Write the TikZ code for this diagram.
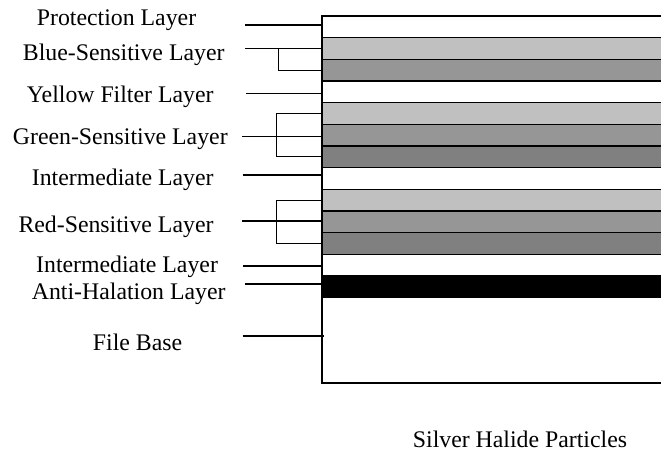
\documentclass[tikz,border=0pt]{standalone}
\usepackage{fontspec}
\setmainfont{Liberation Serif}
\definecolor{lightg}{HTML}{C0C0C0}
\definecolor{midg}{HTML}{969696}
\definecolor{darkg}{HTML}{808080}
\begin{document}
\begin{tikzpicture}[x=1pt,y=-1pt,
  layer/.style={draw=black,line width=1.1pt,anchor=north west,
    minimum width=344pt,minimum height=21.67pt,inner sep=0pt,outer sep=0pt},
  lbl/.style={anchor=base west,inner sep=0pt,font=\fontsize{23.8}{28}\selectfont},
  lead/.style={line width=1.3pt}]
\path[use as bounding box] (0,0) rectangle (661,452);
\begin{scope}
\clip (0,0) rectangle (661,452);
% film stack, top to bottom
\node[layer,fill=white] (prot)   at (322,16.00)  {};
\node[layer,fill=lightg] (blueA) at (322,37.67)  {};
\node[layer,fill=midg]   (blueB) at (322,59.33)  {};
\node[layer,fill=white]  (yell)  at (322,81.00)  {};
\node[layer,fill=lightg] (greenA) at (322,102.67) {};
\node[layer,fill=midg]   (greenB) at (322,124.33) {};
\node[layer,fill=darkg]  (greenC) at (322,146.00) {};
\node[layer,fill=white]  (inter) at (322,167.67) {};
\node[layer,fill=lightg] (redA)  at (322,189.33) {};
\node[layer,fill=midg]   (redB)  at (322,211.00) {};
\node[layer,fill=darkg]  (redC)  at (322,232.67) {};
\node[layer,fill=white]  (interB) at (322,254.33) {};
\node[layer,fill=black]  (anti)  at (322,276.00) {};
\node[layer,fill=white,minimum height=85.6pt] (base) at (322,297.67) {};
% outer frame
\draw[line width=1.6pt] (prot.north east) -| (base.south west) -- (base.south east);
\end{scope}

% labels
\node[lbl] (tProt)  at (36.7,26)    {Protection Layer};
\node[lbl] (tBlue)  at (22.7,60)    {Blue-Sensitive Layer};
\node[lbl] (tYell)  at (26.7,102.7) {Yellow Filter Layer};
\node[lbl] (tGreen) at (12.7,144)   {Green-Sensitive Layer};
\node[lbl] (tInter) at (31.7,185)   {Intermediate Layer};
\node[lbl] (tRed)   at (18.3,232.3) {Red-Sensitive Layer};
\node[lbl] (tInterB) at (36,272.7)  {Intermediate Layer};
\node[lbl] (tAnti)  at (31.7,299)   {Anti-Halation Layer};
\node[lbl] (tBase)  at (92.7,350)   {File Base};
\node[lbl] (tSilver) at (412.7,447.5) {Silver Halide Particles};

% leader lines
\coordinate (pL) at (245,25);
\draw[lead] (pL) -- (pL -| prot.west);

\coordinate (bL) at (245,48.7);
\coordinate (bK) at (278.5,48.7);
\draw[lead] (bL) -- (bL -| blueA.west);
\draw[lead] (bK) |- (blueB.west);

\coordinate (yL) at (246,93.5);
\draw[lead] (yL) -- (yL -| yell.west);

\coordinate (gL) at (242,136.3);
\coordinate (gK) at (276.5,136.3);
\draw[lead] (gL) -- (gL -| greenB.west);
\draw[lead] (greenA.west) -| (gK) |- (greenC.west);

\coordinate (iL) at (242.7,175);
\draw[lead] (iL) -- (iL -| inter.west);

\coordinate (rL) at (242,221);
\coordinate (rK) at (276.5,221);
\draw[lead] (rL) -- (rL -| redB.west);
\draw[lead] (redA.west) -| (rK) |- (redC.west);

\coordinate (jL) at (243,266);
\draw[lead] (jL) -- (jL -| interB.west);

\coordinate (aL) at (245,284);
\draw[lead] (aL) -- (aL -| anti.west);

\coordinate (fL) at (242.7,336);
\draw[lead] (fL) -- ([xshift=2pt]fL -| base.west);
\end{tikzpicture}
\end{document}
